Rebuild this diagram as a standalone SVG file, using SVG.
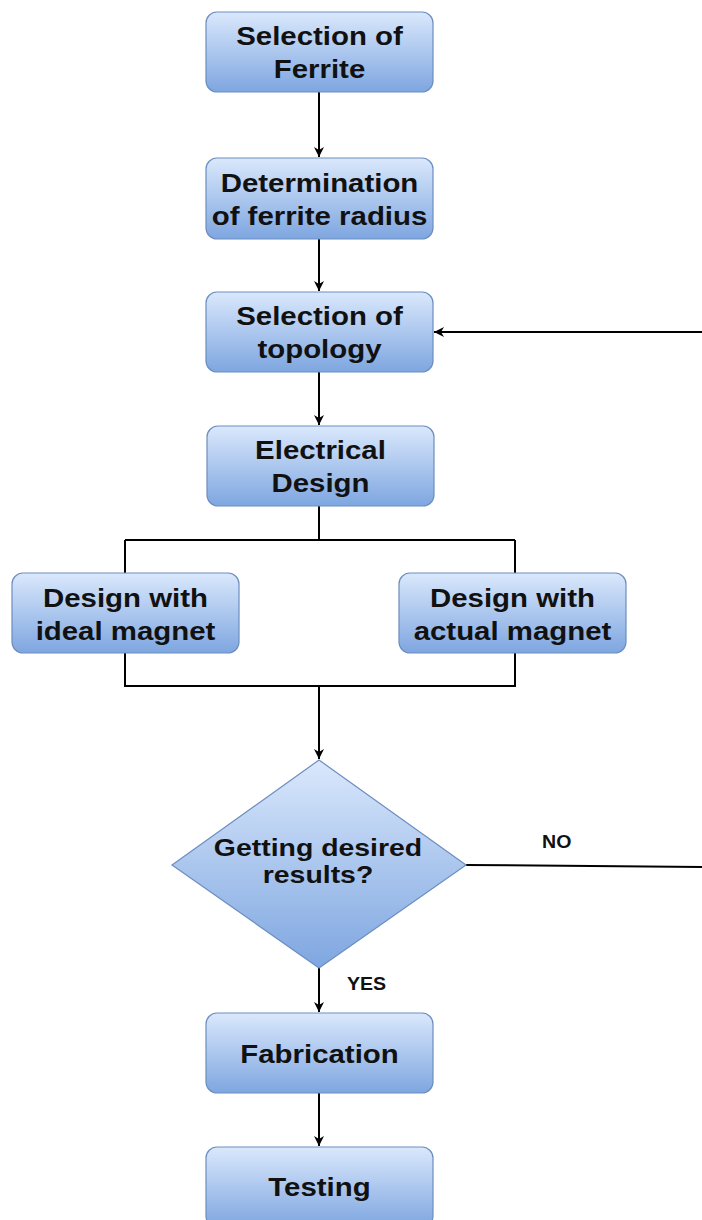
<svg xmlns="http://www.w3.org/2000/svg" width="702" height="1220" viewBox="0 0 702 1220">
  <defs>
    <linearGradient id="blueFill" x1="0" y1="0" x2="0" y2="1">
      <stop offset="0" stop-color="#dae8fc"/>
      <stop offset="1" stop-color="#7ea6e0"/>
    </linearGradient>
    <marker id="arrow" viewBox="0 0 12 12" refX="11" refY="6" markerWidth="12" markerHeight="12" markerUnits="userSpaceOnUse" orient="auto">
      <path d="M1,1 L11,6 L1,11 L4,6 Z" fill="#000"/>
    </marker>
    <style>
      .box { fill: url(#blueFill); stroke: #6c8ebf; stroke-width: 1.2; }
      .label { font-family: "Liberation Sans", Arial, sans-serif; font-weight: bold; font-size: 26.5px; fill: #111; text-anchor: middle; }
      .decision { font-family: "Liberation Sans", Arial, sans-serif; font-weight: bold; font-size: 24.5px; fill: #111; text-anchor: middle; }
      .small { font-family: "Liberation Sans", Arial, sans-serif; font-weight: bold; font-size: 17.5px; fill: #111; }
      .edge { fill: none; stroke: #000; stroke-width: 2; }
    </style>
  </defs>

  <g id="connectors">
    <path class="edge" d="M319,92 L319,157" marker-end="url(#arrow)"/>
    <path class="edge" d="M319,239 L319,291" marker-end="url(#arrow)"/>
    <path class="edge" d="M319,372 L319,425" marker-end="url(#arrow)"/>
    <path class="edge" d="M319,506 L319,540 M125,540 L515,540 M125,540 L125,573 M515,540 L515,573"/>
    <path class="edge" d="M125,653 L125,686 L515,686 L515,653"/>
    <path class="edge" d="M319,686 L319,759" marker-end="url(#arrow)"/>
    <path class="edge" d="M466,865 L702,867"/>
    <path class="edge" d="M702,332 L434,332" marker-end="url(#arrow)"/>
    <path class="edge" d="M319,968 L319,1012" marker-end="url(#arrow)"/>
    <path class="edge" d="M319,1093 L319,1146" marker-end="url(#arrow)"/>
    <text class="small" transform="translate(542,848) scale(1.12,1)">NO</text>
    <text class="small" transform="translate(347,990) scale(1.12,1)">YES</text>
  </g>

  <!-- labels are drawn slightly widened: each line is placed with translate(centerX, baseline) scale(sx,1) -->
  <g id="selection-ferrite">
    <rect class="box" x="206" y="12" width="227" height="80" rx="11"/>
    <text class="label" transform="translate(319.5,45) scale(1.11,1)">Selection of</text>
    <text class="label" transform="translate(319.5,78) scale(1.11,1)">Ferrite</text>
  </g>

  <g id="ferrite-radius">
    <rect class="box" x="206" y="158" width="227" height="81" rx="11"/>
    <text class="label" transform="translate(319.5,191.5) scale(1.11,1)">Determination</text>
    <text class="label" transform="translate(319.5,225) scale(1.11,1)">of ferrite radius</text>
  </g>

  <g id="selection-topology">
    <rect class="box" x="206" y="292" width="227" height="80" rx="11"/>
    <text class="label" transform="translate(319.5,325) scale(1.11,1)">Selection of</text>
    <text class="label" transform="translate(319.5,358) scale(1.11,1)">topology</text>
  </g>

  <g id="electrical-design">
    <rect class="box" x="207" y="426" width="227" height="80" rx="11"/>
    <text class="label" transform="translate(320.5,459) scale(1.11,1)">Electrical</text>
    <text class="label" transform="translate(320.5,492) scale(1.11,1)">Design</text>
  </g>

  <g id="ideal-magnet">
    <rect class="box" x="12" y="573" width="227" height="80" rx="11"/>
    <text class="label" transform="translate(125.5,607) scale(1.11,1)">Design with</text>
    <text class="label" transform="translate(125.5,640) scale(1.11,1)">ideal magnet</text>
  </g>

  <g id="actual-magnet">
    <rect class="box" x="399" y="573" width="227" height="80" rx="11"/>
    <text class="label" transform="translate(512.5,607) scale(1.11,1)">Design with</text>
    <text class="label" transform="translate(512.5,640) scale(1.11,1)">actual magnet</text>
  </g>

  <g id="desired-results">
    <path class="box" d="M319,760 L466,865 L319,968 L172,865 Z"/>
    <text class="decision" transform="translate(318,856) scale(1.16,1)">Getting desired</text>
    <text class="decision" transform="translate(318,883) scale(1.16,1)">results?</text>
  </g>

  <g id="fabrication">
    <rect class="box" x="206" y="1013" width="227" height="80" rx="11"/>
    <text class="label" transform="translate(319.5,1062.5) scale(1.11,1)">Fabrication</text>
  </g>

  <g id="testing">
    <rect class="box" x="206" y="1147" width="227" height="80" rx="11"/>
    <text class="label" transform="translate(319.5,1195.5) scale(1.11,1)">Testing</text>
  </g>
</svg>
